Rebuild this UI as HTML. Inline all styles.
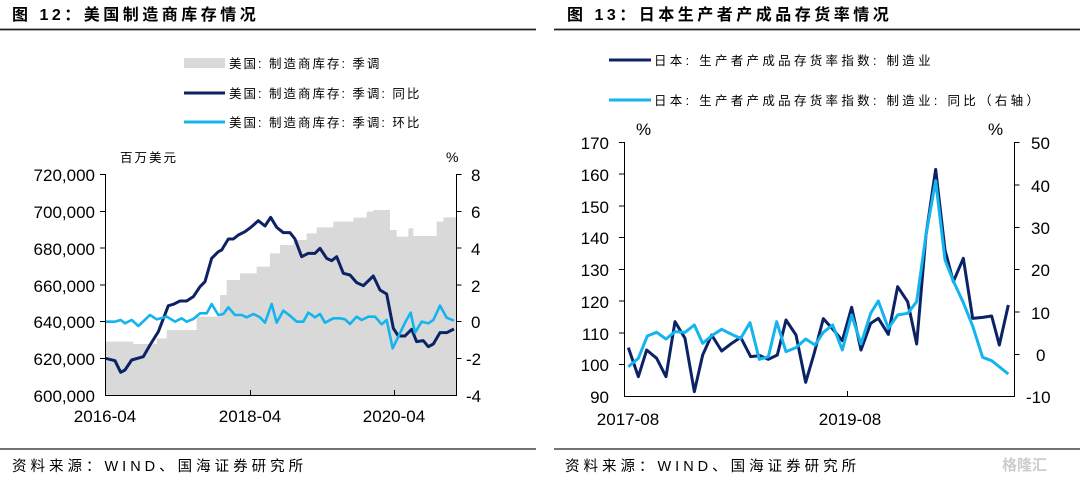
<!DOCTYPE html>
<html><head><meta charset="utf-8"><style>
html,body{margin:0;padding:0;background:#fff;}
svg{display:block;}
text{font-family:"Liberation Sans","Noto Sans CJK SC",sans-serif;fill:#000;}
.cj{font-family:"Liberation Sans","Noto Sans CJK SC","WenQuanYi Zen Hei",sans-serif;}
.ax{font-size:17px;}
.lg{font-size:12.5px;}
</style></head><body>
<svg width="1080" height="477" viewBox="0 0 1080 477" xmlns="http://www.w3.org/2000/svg">
<!-- titles -->
<text x="12" y="20" font-size="16" font-weight="bold" letter-spacing="3.5">图 12：美国制造商库存情况</text>
<text x="567" y="20" font-size="16" font-weight="bold" letter-spacing="3.5">图 13：日本生产者产成品存货率情况</text>
<line x1="0" y1="29.5" x2="536" y2="29.5" stroke="#222" stroke-width="1.8"/>
<line x1="554" y1="29.5" x2="1080" y2="29.5" stroke="#222" stroke-width="1.8"/>
<line x1="0" y1="449" x2="536" y2="449" stroke="#222" stroke-width="1.3"/>
<line x1="554" y1="449" x2="1080" y2="449" stroke="#222" stroke-width="1.3"/>
<text x="12" y="471" font-size="14.5" class="cj" letter-spacing="4">资料来源：WIND、国海证券研究所</text>
<text x="565" y="471" font-size="14.5" class="cj" letter-spacing="4">资料来源：WIND、国海证券研究所</text>
<text x="1002" y="470" font-size="15" style="fill:#ccc" font-weight="bold">格隆汇</text>

<!-- left legend -->
<rect x="184" y="58" width="41" height="10" fill="#d9d9d9"/>
<text x="229" y="68" class="lg cj" letter-spacing="2">美国: 制造商库存: 季调</text>
<line x1="184" y1="93" x2="225" y2="93" stroke="#0b2265" stroke-width="3"/>
<text x="229" y="98" class="lg cj" letter-spacing="2">美国: 制造商库存: 季调: 同比</text>
<line x1="184" y1="122" x2="225" y2="122" stroke="#14b4ee" stroke-width="3"/>
<text x="229" y="127" class="lg cj" letter-spacing="2">美国: 制造商库存: 季调: 环比</text>

<!-- left chart -->
<g transform="translate(0,140) scale(0.33333)">
<polygon fill="#d9d9d9" points="316,765 316,605 400,605 400,612 470,612 470,595 500,595 500,570 590,570 590,530 660,530 660,465 680,465 680,420 720,420 720,400 770,400 770,380 810,380 810,340 840,340 840,315 880,315 880,300 920,300 920,280 950,280 950,262 1000,262 1000,245 1060,245 1060,233 1100,233 1100,215 1120,215 1120,210 1170,210 1170,270 1190,270 1190,290 1225,290 1225,265 1240,265 1240,288 1310,288 1310,245 1330,245 1330,232 1368,232 1368,765"/>
<polyline fill="none" stroke="#0b2265" stroke-width="3" vector-effect="non-scaling-stroke" stroke-linejoin="round" points="316,655 345,662 362,697 375,690 395,660 430,650 450,615 475,575 505,497 520,493 540,483 560,483 580,470 600,440 615,425 635,355 655,335 665,330 685,297 700,297 715,285 735,275 755,260 775,242 795,258 812,232 830,262 850,278 870,278 885,297 905,350 925,340 945,340 960,325 980,355 995,362 1010,350 1030,400 1050,405 1070,428 1090,437 1120,408 1140,450 1160,462 1180,565 1195,588 1215,588 1235,568 1250,605 1270,602 1285,620 1300,612 1320,578 1340,578 1362,567"/>
<polyline fill="none" stroke="#14b4ee" stroke-width="2.6" vector-effect="non-scaling-stroke" stroke-linejoin="round" points="316,545 345,545 362,540 375,550 395,540 415,558 450,525 470,538 500,530 525,545 545,535 560,545 580,537 600,520 620,520 635,492 655,525 670,522 685,502 705,525 725,525 740,532 760,522 780,532 795,548 815,492 830,548 850,512 870,527 890,545 910,545 925,518 945,532 960,522 975,548 1000,535 1020,535 1035,538 1050,552 1070,530 1085,540 1105,530 1125,530 1145,553 1160,540 1178,625 1195,590 1215,548 1232,518 1245,578 1265,545 1285,550 1300,540 1320,497 1340,533 1362,542"/>
</g>
<g stroke="#000" stroke-width="1" fill="none">
<path d="M105.5,174 V395.5 H456.5 V174"/>
<path d="M100,174.5h5.5 M100,211.5h5.5 M100,248h5.5 M100,285h5.5 M100,321.5h5.5 M100,358.5h5.5"/>
<path d="M456.5,174.5h5 M456.5,211.5h5 M456.5,248h5 M456.5,285h5 M456.5,321.5h5 M456.5,358.5h5"/>
<path d="M250.5,395v-5 M394.5,395v-5"/>
</g>
<g class="ax" text-anchor="end">
<text x="95" y="181">720,000</text><text x="95" y="218">700,000</text><text x="95" y="255">680,000</text>
<text x="95" y="292">660,000</text><text x="95" y="328">640,000</text><text x="95" y="365">620,000</text><text x="95" y="402">600,000</text>
</g>
<g class="ax">
<text x="471" y="181">8</text><text x="471" y="218">6</text><text x="471" y="255">4</text><text x="471" y="292">2</text>
<text x="471" y="328">0</text><text x="466" y="365">-2</text><text x="466" y="402">-4</text>
</g>
<g class="ax" text-anchor="middle">
<text x="105" y="422">2016-04</text><text x="250" y="422">2018-04</text><text x="394" y="422">2020-04</text>
</g>
<text x="120" y="162" font-size="12.5" class="cj" letter-spacing="2">百万美元</text>
<text x="446" y="162" font-size="14">%</text>

<!-- right legend -->
<line x1="609" y1="60" x2="651" y2="60" stroke="#0b2265" stroke-width="3"/>
<text x="654" y="65" class="lg cj" letter-spacing="3.3">日本: 生产者产成品存货率指数: 制造业</text>
<line x1="609" y1="100" x2="651" y2="100" stroke="#14b4ee" stroke-width="3"/>
<text x="654" y="105" class="lg cj" letter-spacing="3.3">日本: 生产者产成品存货率指数: 制造业: 同比（右轴）</text>

<!-- right chart -->
<g transform="translate(560,120) scale(0.33333)">
<polyline fill="none" stroke="#0b2265" stroke-width="3" vector-effect="non-scaling-stroke" stroke-linejoin="round" points="205,683 235,770 260,690 290,715 318,770 345,605 375,655 403,815 428,705 455,645 485,693 515,670 542,652 572,710 600,707 625,718 652,705 678,600 708,645 737,787 762,702 790,596 818,627 847,662 875,562 903,690 932,610 955,595 985,643 1013,500 1043,545 1070,672 1098,345 1127,148 1155,390 1180,485 1210,415 1238,595 1268,592 1295,588 1318,675 1345,555"/>
<polyline fill="none" stroke="#14b4ee" stroke-width="3" vector-effect="non-scaling-stroke" stroke-linejoin="round" points="205,740 235,715 262,648 290,637 318,657 345,635 375,637 403,615 428,670 458,645 485,628 515,643 542,655 570,608 598,718 625,710 650,605 678,695 708,683 737,657 765,675 790,637 818,615 847,690 875,585 903,672 932,580 955,543 985,625 1013,585 1043,580 1070,545 1098,345 1127,182 1155,420 1180,483 1210,548 1238,618 1268,712 1295,722 1345,762"/>
</g>
<g stroke="#000" stroke-width="1" fill="none">
<path d="M624.5,142 V396.5 H1014.5 V142"/>
<path d="M619,142.5h5.5 M619,174h5.5 M619,206h5.5 M619,237.5h5.5 M619,269.5h5.5 M619,301h5.5 M619,333h5.5 M619,364.5h5.5"/>
<path d="M1014.5,142.5h5 M1014.5,185h5 M1014.5,227.5h5 M1014.5,269.5h5 M1014.5,312h5 M1014.5,354.5h5"/>
<path d="M847.5,396v-5"/>
</g>
<g class="ax" text-anchor="end">
<text x="609" y="149">170</text><text x="609" y="181">160</text><text x="609" y="213">150</text><text x="609" y="244">140</text>
<text x="609" y="276">130</text><text x="609" y="308">120</text><text x="609" y="340">110</text><text x="609" y="371">100</text><text x="609" y="403">90</text>
</g>
<g class="ax">
<text x="1031" y="149">50</text><text x="1031" y="192">40</text><text x="1031" y="234">30</text><text x="1031" y="276">20</text>
<text x="1031" y="319">10</text><text x="1036" y="361">0</text><text x="1026" y="403">-10</text>
</g>
<g class="ax" text-anchor="middle">
<text x="628" y="425">2017-08</text><text x="850" y="425">2019-08</text>
</g>
<text x="636" y="135" font-size="17">%</text>
<text x="988" y="135" font-size="17">%</text>
</svg>
</body></html>
